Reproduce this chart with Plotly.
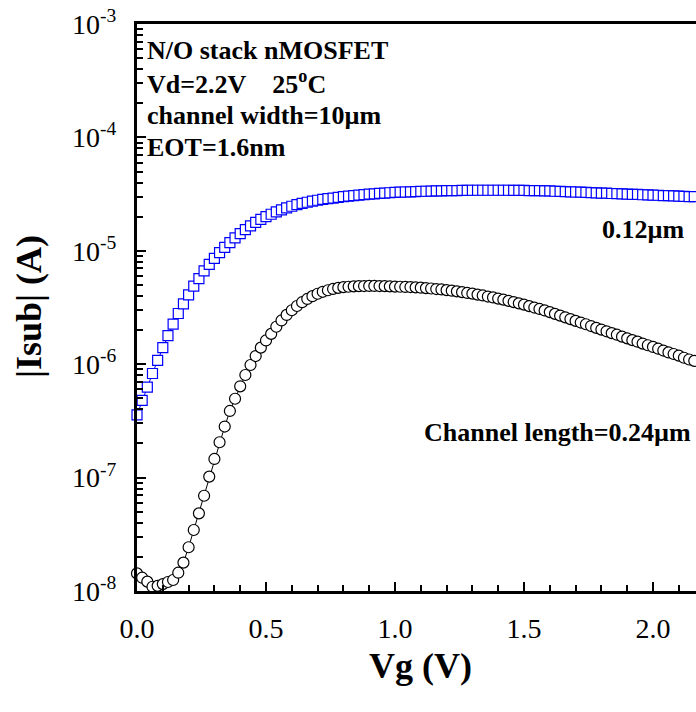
import plotly.graph_objects as go

# Gate voltage (V)
vg = [0.00, 0.02, 0.04, 0.06, 0.08, 0.10, 0.12, 0.14, 0.16, 0.18,
      0.20, 0.22, 0.24, 0.26, 0.28, 0.30, 0.32, 0.34, 0.36, 0.38,
      0.40, 0.42, 0.44, 0.46, 0.48, 0.50, 0.52, 0.54, 0.56, 0.58,
      0.60, 0.62, 0.64, 0.66, 0.68, 0.70, 0.72, 0.74, 0.76, 0.78,
      0.80, 0.82, 0.84, 0.86, 0.88, 0.90, 0.92, 0.94, 0.96, 0.98,
      1.00, 1.02, 1.04, 1.06, 1.08, 1.10, 1.12, 1.14, 1.16, 1.18,
      1.20, 1.22, 1.24, 1.26, 1.28, 1.30, 1.32, 1.34, 1.36, 1.38,
      1.40, 1.42, 1.44, 1.46, 1.48, 1.50, 1.52, 1.54, 1.56, 1.58,
      1.60, 1.62, 1.64, 1.66, 1.68, 1.70, 1.72, 1.74, 1.76, 1.78,
      1.80, 1.82, 1.84, 1.86, 1.88, 1.90, 1.92, 1.94, 1.96, 1.98,
      2.00, 2.02, 2.04, 2.06, 2.08, 2.10, 2.12, 2.14, 2.16, 2.18,
      2.20]

# |Isub| (A), channel length 0.12 um (blue squares)
isub_012 = [3.57e-7, 4.79e-7, 6.29e-7, 8.28e-7, 1.08e-6, 1.40e-6, 1.79e-6, 2.26e-6, 2.80e-6, 3.40e-6,
            4.08e-6, 4.89e-6, 5.68e-6, 6.64e-6, 7.60e-6, 8.59e-6, 9.62e-6, 1.07e-5, 1.18e-5, 1.30e-5,
            1.42e-5, 1.54e-5, 1.66e-5, 1.78e-5, 1.89e-5, 2.00e-5, 2.10e-5, 2.20e-5, 2.30e-5, 2.39e-5,
            2.47e-5, 2.55e-5, 2.62e-5, 2.68e-5, 2.74e-5, 2.79e-5, 2.84e-5, 2.88e-5, 2.92e-5, 2.96e-5,
            3.00e-5, 3.04e-5, 3.07e-5, 3.10e-5, 3.13e-5, 3.16e-5, 3.18e-5, 3.21e-5, 3.23e-5, 3.25e-5,
            3.27e-5, 3.29e-5, 3.30e-5, 3.31e-5, 3.33e-5, 3.34e-5, 3.35e-5, 3.36e-5, 3.37e-5, 3.38e-5,
            3.39e-5, 3.39e-5, 3.40e-5, 3.41e-5, 3.41e-5, 3.42e-5, 3.42e-5, 3.42e-5, 3.42e-5, 3.42e-5,
            3.42e-5, 3.42e-5, 3.42e-5, 3.41e-5, 3.41e-5, 3.41e-5, 3.40e-5, 3.39e-5, 3.39e-5, 3.38e-5,
            3.37e-5, 3.35e-5, 3.34e-5, 3.33e-5, 3.31e-5, 3.30e-5, 3.29e-5, 3.27e-5, 3.26e-5, 3.24e-5,
            3.23e-5, 3.22e-5, 3.20e-5, 3.19e-5, 3.18e-5, 3.16e-5, 3.15e-5, 3.14e-5, 3.12e-5, 3.11e-5,
            3.10e-5, 3.09e-5, 3.07e-5, 3.06e-5, 3.05e-5, 3.04e-5, 3.02e-5, 3.01e-5, 3.00e-5, 2.99e-5,
            2.98e-5]

# |Isub| (A), channel length 0.24 um (black circles)
isub_024 = [1.43e-8, 1.31e-8, 1.21e-8, 1.09e-8, 1.11e-8, 1.15e-8, 1.20e-8, 1.25e-8, 1.45e-8, 1.78e-8,
            2.43e-8, 3.45e-8, 4.84e-8, 6.92e-8, 1.02e-7, 1.46e-7, 2.05e-7, 2.82e-7, 3.87e-7, 4.96e-7,
            6.38e-7, 8.03e-7, 9.84e-7, 1.18e-6, 1.40e-6, 1.62e-6, 1.85e-6, 2.14e-6, 2.43e-6, 2.72e-6,
            2.99e-6, 3.26e-6, 3.52e-6, 3.76e-6, 3.98e-6, 4.18e-6, 4.35e-6, 4.49e-6, 4.61e-6, 4.71e-6,
            4.78e-6, 4.82e-6, 4.86e-6, 4.88e-6, 4.89e-6, 4.90e-6, 4.90e-6, 4.89e-6, 4.88e-6, 4.86e-6,
            4.83e-6, 4.82e-6, 4.80e-6, 4.79e-6, 4.76e-6, 4.73e-6, 4.69e-6, 4.65e-6, 4.60e-6, 4.56e-6,
            4.50e-6, 4.45e-6, 4.39e-6, 4.32e-6, 4.25e-6, 4.19e-6, 4.11e-6, 4.04e-6, 3.95e-6, 3.88e-6,
            3.79e-6, 3.71e-6, 3.62e-6, 3.53e-6, 3.44e-6, 3.35e-6, 3.25e-6, 3.16e-6, 3.07e-6, 2.98e-6,
            2.88e-6, 2.78e-6, 2.68e-6, 2.59e-6, 2.50e-6, 2.41e-6, 2.33e-6, 2.25e-6, 2.17e-6, 2.09e-6,
            2.02e-6, 1.95e-6, 1.88e-6, 1.82e-6, 1.75e-6, 1.69e-6, 1.63e-6, 1.58e-6, 1.52e-6, 1.47e-6,
            1.42e-6, 1.37e-6, 1.32e-6, 1.27e-6, 1.23e-6, 1.19e-6, 1.14e-6, 1.10e-6, 1.07e-6, 1.03e-6,
            0.99e-6]

x_tickvals = [0.0, 0.5, 1.0, 1.5, 2.0]
x_ticktext = ["0.0", "0.5", "1.0", "1.5", "2.0"]
y_exponents = [-8, -7, -6, -5, -4, -3]
y_tickvals = [10.0 ** e for e in y_exponents]
y_ticktext = ["10<sup>%d</sup>" % e for e in y_exponents]
y_minor = [k * 10.0 ** e for e in range(-8, -3) for k in range(2, 10)]

notes = ["N/O stack nMOSFET",
         "Vd=2.2V\u00a0\u00a0\u00a0\u00a025<sup>o</sup>C",
         "channel width=10µm",
         "EOT=1.6nm"]
note_y = [0.954, 0.897, 0.8395, 0.783]

FONT = "Liberation Serif, Times New Roman, serif"

fig = go.Figure()
fig.add_trace(go.Scatter(
    x=vg, y=isub_012, mode="lines+markers", name="0.12µm",
    line=dict(color="#0000ff", width=1),
    marker=dict(symbol="square", size=10, color="white",
                line=dict(color="#0000ff", width=1.2)),
    cliponaxis=False))
fig.add_trace(go.Scatter(
    x=vg, y=isub_024, mode="lines+markers", name="0.24µm",
    line=dict(color="black", width=1),
    marker=dict(symbol="circle", size=11, color="white",
                line=dict(color="black", width=1.2)),
    cliponaxis=False))

annotations = []
for txt, yy in zip(notes, note_y):
    annotations.append(dict(text="<b>%s</b>" % txt, x=0.0143, y=yy, xref="paper", yref="paper",
                            xanchor="left", yanchor="middle", showarrow=False,
                            font=dict(family=FONT, size=26, color="black")))
annotations.append(dict(text="<b>0.12µm</b>", x=0.8283, y=0.6384, xref="paper", yref="paper",
                        xanchor="left", yanchor="middle", showarrow=False,
                        font=dict(family=FONT, size=26, color="black")))
annotations.append(dict(text="<b>Channel length=0.24µm</b>", x=0.5098, y=0.2787, xref="paper", yref="paper",
                        xanchor="left", yanchor="middle", showarrow=False,
                        font=dict(family=FONT, size=26, color="black")))
# axis titles
annotations.append(dict(text="<b>Vg (V)</b>", x=0.508, y=-0.1323, xref="paper", yref="paper",
                        xanchor="center", yanchor="middle", showarrow=False,
                        font=dict(family=FONT, size=36, color="black")))
annotations.append(dict(text="<b>|Isub| (A)</b>", x=-0.1932, y=0.501, xref="paper", yref="paper",
                        xanchor="center", yanchor="middle", showarrow=False, textangle=-90,
                        font=dict(family=FONT, size=36, color="black")))

fig.update_layout(
    width=696, height=712,
    margin=dict(l=137, r=0, t=24, b=121),
    paper_bgcolor="white", plot_bgcolor="white",
    showlegend=False,
    font=dict(family=FONT, size=26, color="black"),
    annotations=annotations,
    xaxis=dict(
        range=[0, 2.1667], tickmode="array", tickvals=x_tickvals, ticktext=x_ticktext,
        ticks="inside", ticklen=9, tickwidth=2, tickcolor="black",
        showline=True, linewidth=3, linecolor="black", mirror=True,
        showgrid=False, zeroline=False,
        tickfont=dict(family=FONT, size=28, color="black"),
        ticklabelstandoff=10,
        minor=dict(ticks="inside", ticklen=6, tickwidth=1.5, tickcolor="black",
                   dtick=0.1, tick0=0, showgrid=False),
    ),
    yaxis=dict(
        type="log", range=[-8, -3], tickmode="array", tickvals=y_tickvals, ticktext=y_ticktext,
        ticks="inside", ticklen=9, tickwidth=2, tickcolor="black",
        showline=True, linewidth=3, linecolor="black", mirror=False,
        showgrid=False, zeroline=False,
        tickfont=dict(family=FONT, size=28, color="black"),
        ticklabelstandoff=12,
        minor=dict(tickmode="array", tickvals=y_minor, ticks="inside", ticklen=6,
                   tickwidth=1.5, tickcolor="black", showgrid=False),
    ),
)

fig.write_html("out.html", config={"displayModeBar": False})
